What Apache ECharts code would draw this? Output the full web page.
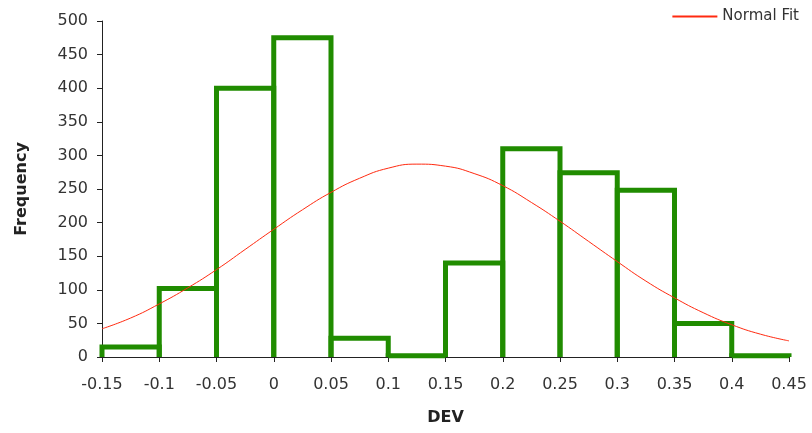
<!DOCTYPE html>
<html>
<head>
<meta charset="utf-8">
<script src="https://cdn.jsdelivr.net/npm/echarts@6/dist/echarts.min.js"></script>
<style>
  html, body { margin: 0; padding: 0; background: #fff; }
  #chart { width: 812px; height: 433px; }
</style>
</head>
<body>
<div id="chart"></div>
<script>
// Histogram bin edges (DEV) and counts per bin
const binStarts = [-0.15, -0.1, -0.05, 0, 0.05, 0.1, 0.15, 0.2, 0.25, 0.3, 0.35, 0.4];
const binWidth = 0.05;
const binCounts = [15, 102, 400, 475, 28, 2, 140, 310, 274, 248, 50, 2];

// Fitted normal curve, sampled along DEV
const fitX = [-0.15, -0.125, -0.1, -0.075, -0.05, -0.025, 0, 0.025, 0.05, 0.075, 0.1, 0.125,
              0.15, 0.175, 0.2, 0.225, 0.25, 0.275, 0.3, 0.325, 0.35, 0.375, 0.4, 0.425, 0.45];
const fitY = [42, 58, 79, 103, 130, 160, 190, 219, 245, 266, 281, 287,
              284, 273, 255, 230, 202, 172, 142, 113, 88, 66, 48, 34, 24];

const xTicks = [-0.15, -0.1, -0.05, 0, 0.05, 0.1, 0.15, 0.2, 0.25, 0.3, 0.35, 0.4, 0.45];

const font = '"DejaVu Sans", Verdana, sans-serif';

const histData = binStarts.map((s, i) => [s, s + binWidth, binCounts[i]]);
const fitData = fitX.map((x, i) => [x, fitY[i]]);

const chart = echarts.init(document.getElementById('chart'));
chart.setOption({
  animation: false,
  backgroundColor: '#fff',
  grid: { left: 102, right: 23, top: 21, bottom: 76 },
  legend: {
    right: 8, top: 4,
    itemWidth: 45, itemHeight: 2, itemGap: 5,
    icon: 'rect',
    data: [{ name: 'Normal Fit' }],
    textStyle: { fontFamily: font, fontSize: 15, color: '#333', padding: [0, 0, 0, 0] }
  },
  xAxis: {
    type: 'value',
    min: -0.15, max: 0.45, interval: 0.05,
    name: 'DEV', nameLocation: 'middle', nameGap: 53,
    nameTextStyle: { fontFamily: font, fontSize: 16, fontWeight: 'bold', color: '#222' },
    axisLine: { onZero: false, lineStyle: { color: '#222', width: 1 } },
    axisTick: { show: true, length: 5, lineStyle: { color: '#222' } },
    splitLine: { show: false },
    axisLabel: {
      margin: 20, fontFamily: font, fontSize: 16, color: '#333',
      formatter: v => {
        const r = Math.round(v * 100) / 100;
        return xTicks.includes(r) ? String(r) : '';
      }
    }
  },
  yAxis: {
    type: 'value',
    min: 0, max: 500, interval: 50,
    name: 'Frequency', nameLocation: 'middle', nameGap: 72,
    nameTextStyle: { fontFamily: font, fontSize: 16, fontWeight: 'bold', color: '#222' },
    axisLine: { show: true, onZero: false, lineStyle: { color: '#222', width: 1 } },
    axisTick: { show: true, length: 5, lineStyle: { color: '#222' } },
    splitLine: { show: false },
    axisLabel: { margin: 14, fontFamily: font, fontSize: 16, color: '#333' }
  },
  series: [
    {
      name: 'Histogram',
      type: 'custom',
      z: 2,
      data: histData,
      renderItem: function (params, api) {
        const x0 = api.value(0), x1 = api.value(1), v = api.value(2);
        const p0 = api.coord([x0, 0]);
        const p1 = api.coord([x0, v]);
        const p2 = api.coord([x1, v]);
        const p3 = api.coord([x1, 0]);
        return {
          type: 'polyline',
          shape: { points: [p0, p1, p2, p3] },
          style: { fill: null, stroke: '#208c00', lineWidth: 5, lineJoin: 'miter' }
        };
      }
    },
    {
      name: 'Normal Fit',
      type: 'line',
      z: 3,
      data: fitData,
      smooth: true,
      showSymbol: false,
      lineStyle: { color: '#ff2a10', width: 1 },
      itemStyle: { color: '#ff2a10' }
    }
  ]
});
</script>
</body>
</html>
